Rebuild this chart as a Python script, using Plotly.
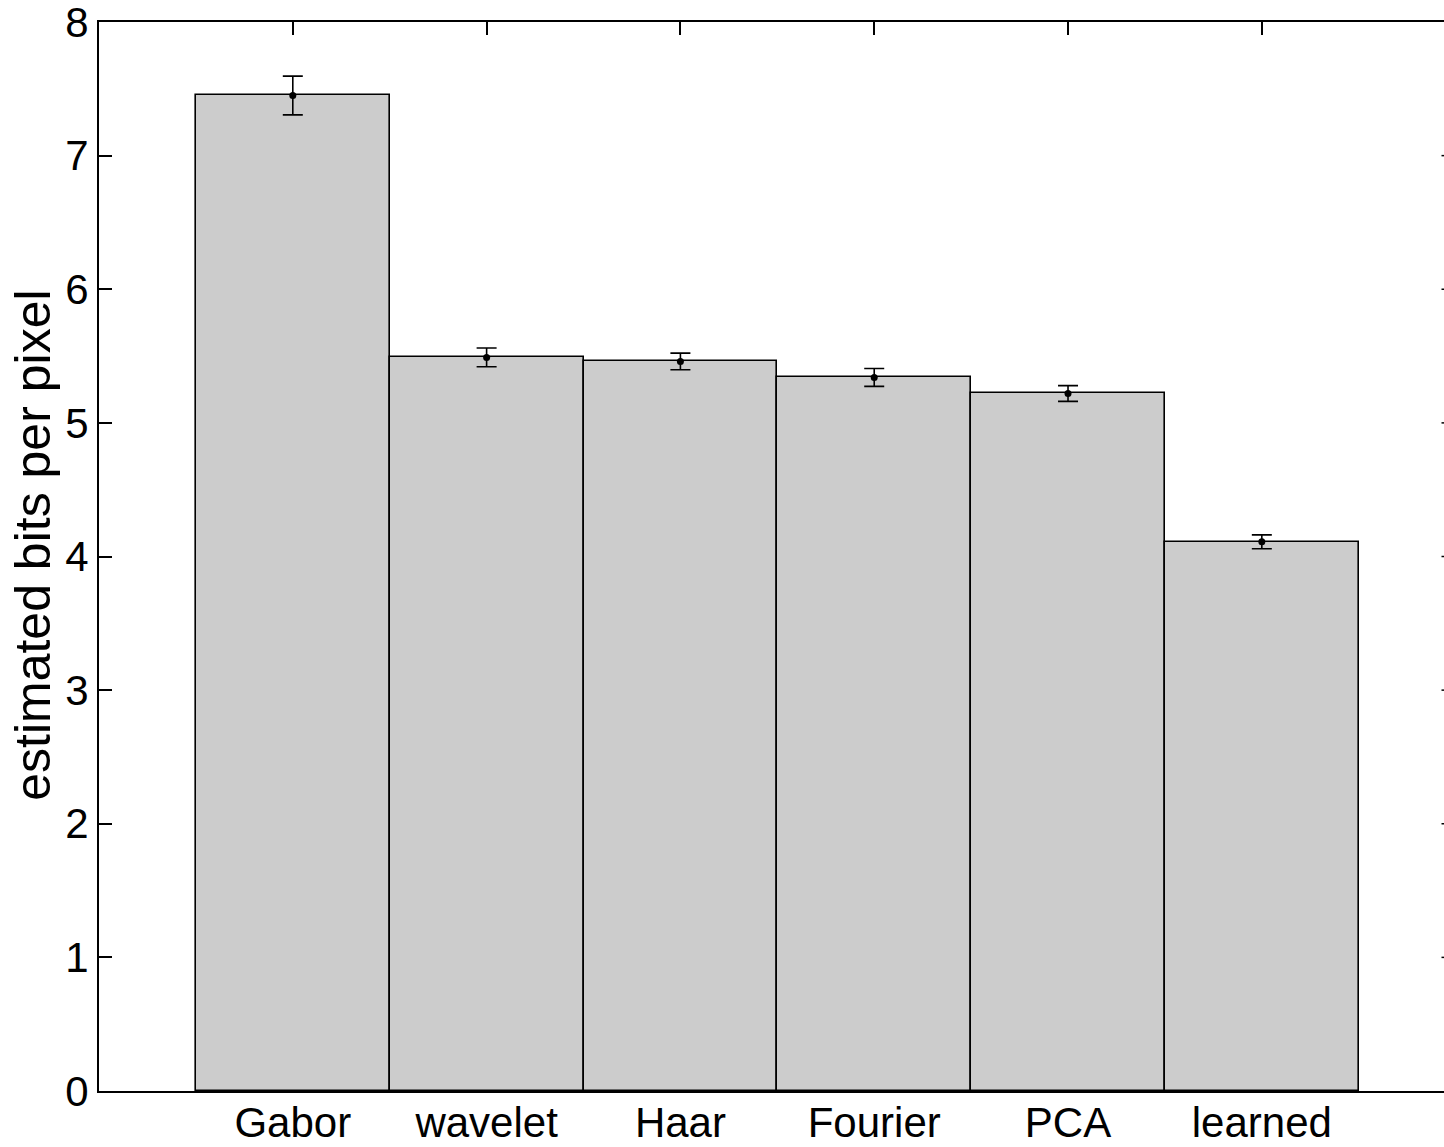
import plotly.graph_objects as go

# Estimated coding cost for each basis
categories = ["Gabor", "wavelet", "Haar", "Fourier", "PCA", "learned"]
bits_per_pixel = [7.45, 5.49, 5.46, 5.34, 5.22, 4.11]
std_error = [0.145, 0.07, 0.062, 0.067, 0.059, 0.052]
y_ticks = [0, 1, 2, 3, 4, 5, 6, 7, 8]

positions = list(range(1, len(categories) + 1))
FONT = "Liberation Sans, Arial, Helvetica, sans-serif"
x_max = 6.94

fig = go.Figure()

fig.add_trace(go.Bar(
    x=positions,
    y=bits_per_pixel,
    width=1.0,
    marker=dict(color="#cccccc", line=dict(color="black", width=1.6)),
    showlegend=False,
    hoverinfo="skip",
))

fig.add_trace(go.Scatter(
    x=positions,
    y=bits_per_pixel,
    mode="markers",
    marker=dict(color="black", size=7),
    error_y=dict(type="data", array=std_error, color="black",
                 thickness=1.6, width=10),
    showlegend=False,
    hoverinfo="skip",
))

# small tick stubs on the right-hand frame edge
for v in y_ticks[1:-1]:
    fig.add_shape(type="line", xref="paper", yref="y",
                  x0=1 - 2.5 / 1345, x1=1, y0=v, y1=v,
                  line=dict(color="black", width=1.5))

# y-axis title
fig.add_annotation(
    text="estimated bits per pixel",
    xref="paper", yref="paper",
    x=(33 - 99) / 1345, y=0.51,
    xanchor="center", yanchor="middle",
    textangle=-90, showarrow=False,
    font=dict(family=FONT, size=50, color="black"),
)

fig.update_layout(
    width=1444,
    height=1147,
    margin=dict(l=99, r=0, t=22, b=56, autoexpand=False),
    paper_bgcolor="white",
    plot_bgcolor="white",
    font=dict(family=FONT, size=42, color="black"),
    bargap=0,
    xaxis=dict(
        range=[0, x_max],
        tickmode="array",
        tickvals=positions,
        ticktext=categories,
        ticks="inside",
        ticklen=13,
        tickwidth=1.5,
        tickcolor="black",
        showline=True,
        linecolor="black",
        linewidth=1.8,
        mirror="ticks",
        showgrid=False,
        zeroline=False,
        automargin=False,
        ticklabeloverflow="allow",
        ticklabelstandoff=-6,
        layer="below traces",
        tickfont=dict(family=FONT, size=42, color="black"),
    ),
    yaxis=dict(
        range=[0, 8],
        tickmode="array",
        tickvals=y_ticks,
        ticktext=[str(v) for v in y_ticks],
        ticks="inside",
        ticklen=13,
        tickwidth=1.5,
        tickcolor="black",
        showline=True,
        linecolor="black",
        linewidth=1.8,
        showgrid=False,
        zeroline=False,
        automargin=False,
        ticklabeloverflow="allow",
        layer="below traces",
        tickfont=dict(family=FONT, size=42, color="black"),
    ),
)

fig.write_html("out.html")
